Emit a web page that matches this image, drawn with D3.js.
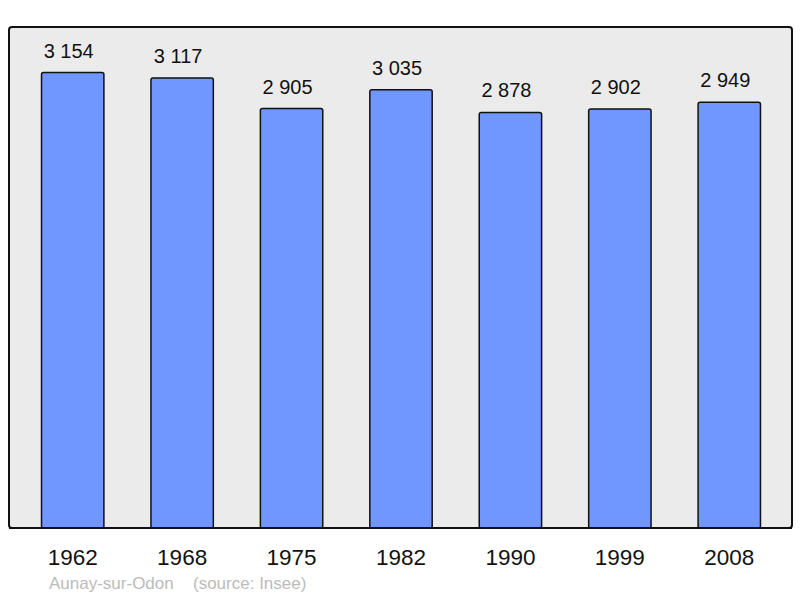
<!DOCTYPE html>
<html>
<head>
<meta charset="utf-8">
<script src="https://cdn.jsdelivr.net/npm/d3@7"></script>
<style>
  body { margin: 0; background: #fff; }
  text { font-family: "Liberation Sans", Arial, sans-serif; }
</style>
</head>
<body>
<div id="chart"></div>
<script>
const years = ["1962", "1968", "1975", "1982", "1990", "1999", "2008"];
const population = [3154, 3117, 2905, 3035, 2878, 2902, 2949];
const place = "Aunay-sur-Odon";
const source = "(source: Insee)";

const width = 800;
const height = 598;
const panel = { left: 9, top: 27, right: 792, bottom: 528 };

const svg = d3.select("#chart").append("svg")
    .attr("width", width)
    .attr("height", height);

// grey plot frame
svg.append("rect")
    .attr("x", panel.left)
    .attr("y", panel.top)
    .attr("width", panel.right - panel.left)
    .attr("height", panel.bottom - panel.top)
    .attr("rx", 3)
    .attr("fill", "#ebebeb")
    .attr("stroke", "#111")
    .attr("stroke-width", 2);

const x = d3.scaleBand()
    .domain(years)
    .range([18, 784])
    .paddingInner(0.43)
    .paddingOuter(0.215);

const y = d3.scaleLinear()
    .domain([0, d3.max(population) * 1.1])
    .range([panel.bottom, panel.top]);

const data = years.map((yr, i) => ({ year: yr, value: population[i] }));

svg.append("g")
    .selectAll("rect")
    .data(data)
    .join("rect")
    .attr("x", d => x(d.year))
    .attr("y", d => y(d.value))
    .attr("width", x.bandwidth())
    .attr("height", d => y(0) - y(d.value))
    .attr("rx", 2)
    .attr("fill", "#7096ff")
    .attr("stroke", "#111")
    .attr("stroke-width", 1.5);

// redraw bottom border over bar bottoms
svg.append("line")
    .attr("x1", panel.left)
    .attr("x2", panel.right)
    .attr("y1", panel.bottom)
    .attr("y2", panel.bottom)
    .attr("stroke", "#111")
    .attr("stroke-width", 2);

const fmt = v => d3.format(",")(v).replace(",", " ");

// value labels sit a bit left of the bar centre in the original
svg.append("g")
    .selectAll("text")
    .data(data)
    .join("text")
    .attr("x", d => x(d.year) + x.bandwidth() / 2 - 4)
    .attr("y", d => y(d.value) - 15)
    .attr("text-anchor", "middle")
    .attr("font-size", 20)
    .attr("fill", "#111")
    .text(d => fmt(d.value));

svg.append("g")
    .selectAll("text")
    .data(years)
    .join("text")
    .attr("x", d => x(d) + x.bandwidth() / 2)
    .attr("y", 565)
    .attr("text-anchor", "middle")
    .attr("font-size", 22.5)
    .attr("fill", "#111")
    .text(d => d);

svg.append("text")
    .attr("x", 49)
    .attr("y", 589)
    .attr("font-size", 17)
    .attr("fill", "#bbb")
    .text(place);

svg.append("text")
    .attr("x", 193)
    .attr("y", 589)
    .attr("font-size", 17)
    .attr("fill", "#bbb")
    .text(source);
</script>
</body>
</html>
